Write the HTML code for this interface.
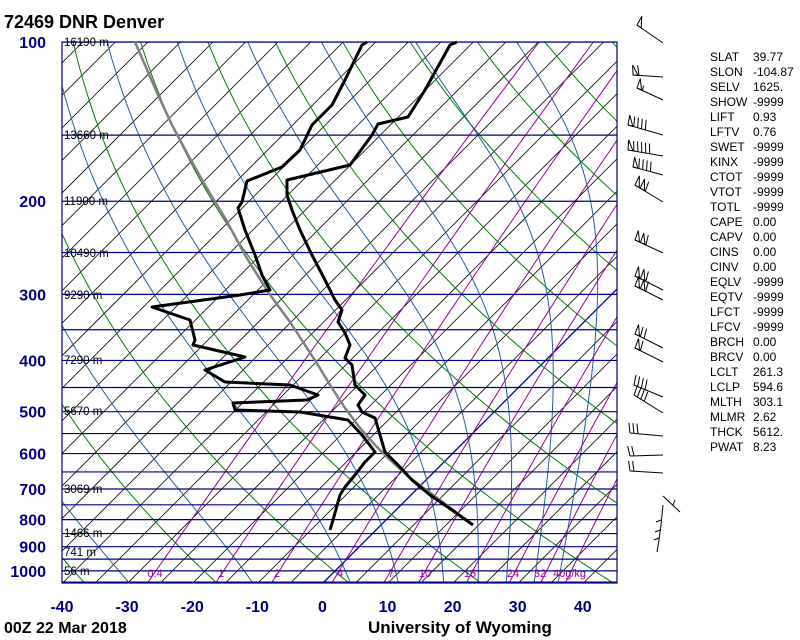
<!DOCTYPE html>
<html><head><meta charset="utf-8"><style>
html,body{margin:0;padding:0;background:#fff}
svg{display:block}
text{font-family:"Liberation Sans",sans-serif}
</style></head><body>
<svg id="s" width="800" height="640" viewBox="0 0 800 640" xmlns="http://www.w3.org/2000/svg">
<defs><clipPath id="c"><rect x="62" y="42" width="555" height="541"/></clipPath></defs>
<g id="bg" clip-path="url(#c)"></g>
<g id="fg"></g>
<text x="4" y="28" font-size="18" font-weight="bold">72469 DNR Denver</text>
<text x="4" y="633" font-size="16" font-weight="bold">00Z 22 Mar 2018</text>
<text x="368" y="633" font-size="17" font-weight="bold">University of Wyoming</text>
</svg>
<script>
var NS="http://www.w3.org/2000/svg";
var bg=document.getElementById("bg"),fg=document.getElementById("fg");
function Y(p){return 42+229.7*Math.log(p/100);}
function X(T,p){return 323+6.51*T+(583-Y(p));}
function el(par,tag,a,txt){var e=document.createElementNS(NS,tag);for(var k in a)e.setAttribute(k,a[k]);if(txt!==undefined)e.textContent=txt;par.appendChild(e);return e;}
function pl(par,pts,col,w){el(par,"polyline",{points:pts.map(function(q){return q[0].toFixed(1)+","+q[1].toFixed(1)}).join(" "),fill:"none",stroke:col,"stroke-width":w,"stroke-linejoin":"round"});}
// isotherms every 5C
for(var k=-40;k<30;k++){var c=323+k*32.55;el(bg,"line",{x1:c,y1:583,x2:c+541,y2:42,stroke:"#000","stroke-width":0.8});}
el(bg,"line",{x1:323,y1:583,x2:864,y2:42,stroke:"#0000a0","stroke-width":1.3});
// dry adiabats
for(var th=213;th<=493;th+=20){var pts=[];for(var p=1050;p>=100;p-=10){var T=th*Math.pow(p/1000,0.286)-273.15;pts.push([X(T,p),Y(p)]);}pl(bg,pts,"#008000",1);}
// moist adiabats
function es(T){return 6.112*Math.exp(17.67*T/(T+243.5));}
var starts=[-30,-11,4,11.4,18.4,23.7,28,32.3,36];
starts.forEach(function(T0){var T=T0,pts=[];for(var p=1050;p>=100;p-=2){pts.push([X(T,p),Y(p)]);var Tk=T+273.15,e=es(T),rs=0.622*e/(p-e);var L=2.5e6,Rd=287,cp=1004;var dTdp=(Rd*Tk+L*rs)/(p*(cp+L*L*rs*0.622/(Rd*Tk*Tk)));T-=dTdp*2;}pl(bg,pts,"#1f5fa0",1);});
// mixing ratio
[0.4,1,2,4,7,10,16,24,32,40].forEach(function(w){var pts=[];for(var p=1050;p>=100;p-=10){var e=w*p/(622+w),l=Math.log(e/6.112),Td=243.5*l/(17.67-l);pts.push([X(Td,p),Y(p)]);}pl(bg,pts,"#990099",1);});
// isobars
[100,150,200,250,300,350,400,450,500,550,600,650,700,750,800,850,900,950,1000,1050].forEach(function(p){var y=Y(p);el(bg,"line",{x1:62,y1:y,x2:617,y2:y,stroke:"#000080","stroke-width":1.2});});
el(fg,"rect",{x:62,y:42,width:555,height:541,fill:"none",stroke:"#000080","stroke-width":1.2});
[["0.4",155],["1",221],["2",277],["4",340],["7",391],["10",425],["16",470],["24",513],["32",540],["40g/kg",553]].forEach(function(a){el(fg,"text",{x:a[1],y:577,"font-size":11,fill:"#990099","text-anchor":a[0]=="40g/kg"?"start":"middle"},a[0]);});
[["16190 m",46],["13660 m",139],["11900 m",205],["10490 m",257],["9290 m",299],["7290 m",364],["5670 m",415],["3069 m",493],["1466 m",537],["741 m",556],["56 m",575]].forEach(function(a){el(fg,"text",{x:64,y:a[1],"font-size":11.5,fill:"#000"},a[0]);});
[100,200,300,400,500,600,700,800,900,1000].forEach(function(p){el(fg,"text",{x:46,y:Y(p)+6,"font-size":16,"font-weight":"bold",fill:"#000080","text-anchor":"end"},String(p));});
for(var t=-40;t<=40;t+=10){el(fg,"text",{x:62+6.51*(t+40),y:612,"font-size":16,"font-weight":"bold",fill:"#000080","text-anchor":"middle"},String(t));}
pl(fg,[[473,525],[440,500],[410,478],[390,460],[375,445],[360,428],[345,408],[330,385],[318,365],[305,345],[290,322],[268,292],[245,255],[225,218],[205,185],[188,155],[172,125],[158,95],[145,65],[135,42]],"#808080",2.5);
pl(fg,[[457,42],[450,45],[425,90],[408,117],[378,124],[372,135],[350,165],[287,180],[287,195],[292,210],[300,230],[312,255],[325,280],[335,300],[342,310],[338,322],[345,333],[350,345],[345,358],[352,365],[355,385],[365,395],[358,405],[362,412],[375,418],[380,435],[385,452],[398,465],[412,480],[430,495],[452,510],[473,525]],"#000",3);
pl(fg,[[367,42],[362,45],[345,80],[332,105],[320,117],[312,125],[300,150],[282,167],[247,181],[242,202],[238,208],[245,230],[255,255],[262,275],[270,290],[240,295],[152,307],[190,320],[195,340],[193,345],[245,357],[205,370],[225,382],[290,385],[318,395],[307,400],[233,403],[235,410],[300,412],[348,420],[362,435],[375,452],[365,462],[355,475],[345,487],[340,495],[333,520],[330,530]],"#000",3);
function barb(x0,y0,x1,y1,fl,fu,hf){el(fg,"line",{x1:x0,y1:y0,x2:x1,y2:y1,stroke:"#000","stroke-width":1});var dx=x0-x1,dy=y0-y1,L=Math.hypot(dx,dy),ux=dx/L,uy=dy/L,px=uy,py=-ux;if(py>0){px=-px;py=-py;}var s=0;for(var i=0;i<fl;i++){var ax=x0-ux*s,ay=y0-uy*s,bx=x0-ux*(s+5),by=y0-uy*(s+5);el(fg,"polygon",{points:ax+","+ay+" "+(ax+px*10+ux*1)+","+(ay+py*10+uy*1)+" "+bx+","+by,fill:"none",stroke:"#000","stroke-width":1});s+=6;}
for(var j=0;j<fu;j++){var ax=x0-ux*s,ay=y0-uy*s;el(fg,"line",{x1:ax,y1:ay,x2:ax+px*10+ux*2,y2:ay+py*10+uy*2,stroke:"#000","stroke-width":1});s+=4;}
if(hf){var ax=x0-ux*s,ay=y0-uy*s;el(fg,"line",{x1:ax,y1:ay,x2:ax+px*5+ux*1,y2:ay+py*5+uy*1,stroke:"#000","stroke-width":1});}}
barb(637,25,663,43,1,0,0);barb(633,75,663,77,1,1,0);barb(637,88,663,100,1,0,1);
barb(628,125,663,135,1,4,0);barb(628,150,663,156,1,5,0);barb(633,167,663,175,1,4,0);barb(635,185,663,202,2,1,0);
barb(635,240,663,253,2,1,0);barb(635,276,663,290,2,1,0);barb(635,286,663,300,2,1,0);
barb(635,334,663,348,1,2,0);barb(635,348,663,362,1,1,0);barb(634,385,663,397,0,4,0);barb(634,395,663,413,0,4,0);
barb(630,433,663,436,0,3,0);barb(630,456,663,455,0,2,0);barb(630,471,663,473,0,2,0);
el(fg,"line",{x1:663,y1:496,x2:680,y2:512,stroke:"#000","stroke-width":1});el(fg,"line",{x1:673,y1:505,x2:675,y2:500,stroke:"#000","stroke-width":1});
el(fg,"polyline",{points:"663,505 661,525 659,540 657,552",fill:"none",stroke:"#000","stroke-width":1});
[[661,520],[660,530],[659,538]].forEach(function(q){el(fg,"line",{x1:q[0],y1:q[1],x2:q[0]-5,y2:q[1]+2,stroke:"#000","stroke-width":1});});
var st=[["SLAT","39.77"],["SLON","-104.87"],["SELV","1625."],["SHOW","-9999"],["LIFT","0.93"],["LFTV","0.76"],["SWET","-9999"],["KINX","-9999"],["CTOT","-9999"],["VTOT","-9999"],["TOTL","-9999"],["CAPE","0.00"],["CAPV","0.00"],["CINS","0.00"],["CINV","0.00"],["EQLV","-9999"],["EQTV","-9999"],["LFCT","-9999"],["LFCV","-9999"],["BRCH","0.00"],["BRCV","0.00"],["LCLT","261.3"],["LCLP","594.6"],["MLTH","303.1"],["MLMR","2.62"],["THCK","5612."],["PWAT","8.23"]];
st.forEach(function(a,i){var y=61+15*i;el(fg,"text",{x:710,y:y,"font-size":12},a[0]);el(fg,"text",{x:753,y:y,"font-size":12},a[1]);});
</script>
</body></html>
